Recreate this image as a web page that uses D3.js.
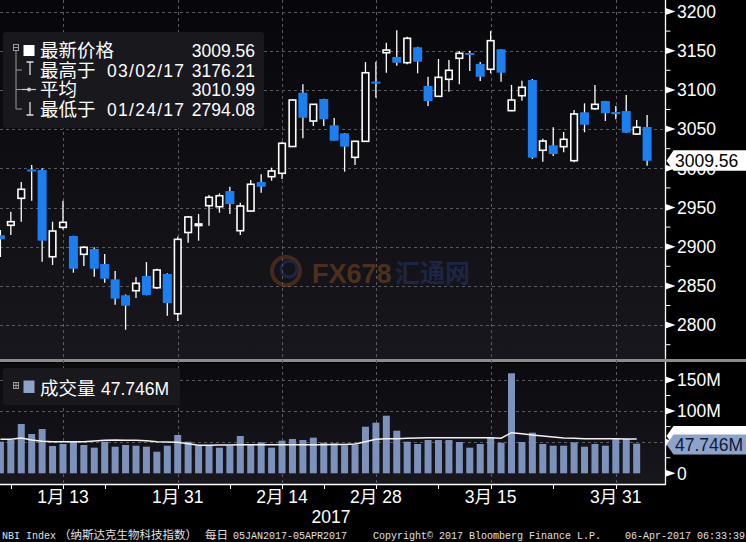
<!DOCTYPE html>
<html><head><meta charset="utf-8">
<script src="https://cdn.jsdelivr.net/npm/d3@7"></script>
<style>html,body{margin:0;padding:0;background:#000;} svg{display:block;}</style>
</head><body>
<svg id="c" width="746" height="542"></svg>
<script>
// ---------- DATA ----------
const dates = ["01/05","01/06","01/09","01/10","01/11","01/12","01/13","01/17","01/18","01/19","01/20","01/23","01/24","01/25","01/26","01/27","01/30","01/31",
"02/01","02/02","02/03","02/06","02/07","02/08","02/09","02/10","02/13","02/14","02/15","02/16","02/17","02/21","02/22","02/23","02/24","02/27","02/28",
"03/01","03/02","03/03","03/06","03/07","03/08","03/09","03/10","03/13","03/14","03/15","03/16","03/17","03/20","03/21","03/22","03/23","03/24","03/27","03/28","03/29","03/30","03/31",
"04/03","04/04","04/05"];
const openP  = [2914.6,2927.3,2961.7,2997.5,2997.8,2887.2,2924.7,2913.6,2890.3,2897.1,2877.9,2858.4,2838.0,2843.9,2862.6,2847.7,2865.2,2814.5,
2918.1,2927.0,2952.3,2951.0,2971.0,2920.4,2945.5,2982.5,2989.3,2993.6,3027.8,3096.4,3060.3,3088.4,3054.8,3044.6,3014.0,3034.4,3109.6,
3147.4,3142.0,3134.7,3154.3,3105.0,3091.8,3113.5,3140.3,3146.7,3133.0,3126.3,3151.8,3073.5,3092.6,3112.6,3023.0,3029.3,3027.6,3009.7,3071.4,3076.0,3085.8,3070.8,
3073.0,3043.7,3052.7];
const highP  = [2921.3,2944.6,2982.5,3004.2,3000.0,2931.9,2958.7,2914.0,2900.9,2899.2,2890.7,2869.0,2839.0,2861.4,2880.5,2871.9,2866.0,2912.8,
2939.0,2941.7,2966.0,2968.0,2976.5,2956.0,2985.0,2992.3,3000.8,3034.0,3088.0,3107.1,3082.0,3088.6,3064.2,3045.0,3035.0,3135.6,3136.0,
3160.2,3176.21,3167.9,3155.0,3116.8,3139.4,3138.1,3149.6,3150.0,3135.6,3175.0,3152.0,3106.3,3111.7,3113.9,3037.8,3052.3,3046.3,3074.4,3082.9,3106.3,3086.0,3079.5,
3093.5,3061.6,3068.0];
const lowP   = [2886.9,2914.9,2931.9,2958.7,2880.9,2876.7,2922.0,2866.8,2875.4,2861.7,2854.1,2826.0,2794.08,2834.6,2838.0,2846.0,2812.0,2805.2,
2905.0,2907.7,2926.8,2943.4,2941.7,2914.9,2945.0,2968.9,2984.2,2986.4,3027.0,3038.3,3053.8,3054.0,3035.0,2995.7,3004.2,3034.0,3090.0,
3121.9,3130.9,3132.7,3121.2,3079.5,3091.0,3097.7,3107.1,3124.0,3111.4,3121.2,3110.5,3073.0,3086.2,3011.9,3008.4,3015.7,3020.4,3007.7,3046.0,3074.4,3060.3,3062.5,
3045.0,3042.5,3003.3];
const closeP = [2909.5,2931.9,2973.2,2996.9,2907.7,2920.0,2931.1,2871.9,2899.2,2871.9,2859.2,2833.7,2824.7,2853.3,2838.4,2870.3,2828.2,2909.4,
2937.9,2929.0,2963.0,2965.0,2954.5,2951.9,2979.6,2976.5,2996.6,3031.9,3087.1,3064.5,3081.6,3062.5,3035.2,3027.6,3034.4,3121.9,3109.0,
3150.8,3134.7,3165.8,3136.0,3085.8,3116.0,3125.0,3146.7,3145.0,3116.8,3162.8,3121.9,3087.1,3103.3,3013.5,3034.8,3018.2,3037.0,3069.3,3055.6,3081.6,3070.2,3070.0,
3045.4,3052.3,3009.56];
// volume in millions (no bar drawn for the last session)
const volume = [50.8,53.5,79.3,63.2,71.2,43.9,47.1,50.8,45.5,41.2,50.8,42.8,45.5,44.4,42.8,34.7,44.4,61.6,
50.8,44.4,44.4,41.2,44.4,60.0,46.6,49.8,41.2,52.4,55.2,53.5,57.3,49.2,48.2,45.0,46.0,74.9,81.4,
92.6,68.5,50.8,47.1,53.5,53.5,53.5,50.3,41.2,47.1,57.3,49.2,160.8,50.3,65.3,47.1,44.4,44.4,49.8,42.8,47.1,44.4,55.2,
55.2,47.746,null];
const volumeMA = [54.7,54.7,56.8,53.5,51.5,50.8,50.8,50.8,50.8,51.9,53.0,53.5,53.0,53.0,52.4,50.8,50.3,49.8,
47.6,45.0,45.0,45.5,45.5,46.0,46.0,46.0,46.0,46.0,46.0,46.0,46.0,46.0,46.5,46.5,47.0,50.8,54.7,
55.7,55.7,56.3,56.8,57.3,57.3,57.3,57.3,57.3,57.3,57.3,56.3,65.3,63.7,61.6,60.0,58.4,56.8,56.3,55.7,55.7,55.7,55.5,
55.2,55.2,null];
const priceTicks = [2800,2850,2900,2950,3000,3050,3100,3150,3200];
const priceMinor = [2775,2825,2875,2925,2975,3025,3075,3125,3175];
const volTicks = [0,50,100,150];
const volTickLabels = ["0","","100M","150M"];   // 50M label is hidden behind the last-volume tag
const volMinor = [25,75,125];
const dateLabelIdx = [6,17,27,36,47,59];
const dateLabels = ["1月 13","1月 31","2月 14","2月 28","3月 15","3月 31"];
const dateMinorIdx = [1,10,22,31,42,53];
const lastPrice = 3009.56, avgPrice = 3010.99, maxPrice = 3176.21, minPrice = 2794.08;
const lastVolume = 47.746;

// ---------- SETUP ----------
const svg = d3.select("#c");
const W = 746, PR = 665.5;
const numFont = "'Liberation Sans', Arial, 'Noto Sans CJK SC', sans-serif";
const cjkFont = "'Noto Sans CJK SC', 'Liberation Sans', sans-serif";
const x = d3.scalePoint().domain(dates).range([0.4, 647.1]);
const y = d3.scaleLinear().domain([2800, 3200]).range([325.1, 11.5]);
const yv = d3.scaleLinear().domain([0, 150]).range([473.3, 380.0]);

const defs = svg.append("defs");
const g1 = defs.append("linearGradient").attr("id","pg").attr("x1",0).attr("y1",0).attr("x2",0).attr("y2",1);
g1.append("stop").attr("offset","0%").attr("stop-color","#07070b");
g1.append("stop").attr("offset","100%").attr("stop-color","#17171d");
const g2 = defs.append("linearGradient").attr("id","vg").attr("x1",0).attr("y1",0).attr("x2",0).attr("y2",1);
g2.append("stop").attr("offset","0%").attr("stop-color","#0a0a0f");
g2.append("stop").attr("offset","100%").attr("stop-color","#17171d");

svg.append("rect").attr("width",W).attr("height",542).attr("fill","#000");
svg.append("rect").attr("x",0).attr("y",0).attr("width",PR).attr("height",359).attr("fill","url(#pg)");
svg.append("rect").attr("x",0).attr("y",363).attr("width",PR).attr("height",121).attr("fill","url(#vg)");
svg.append("rect").attr("x",0).attr("y",359).attr("width",W).attr("height",3).attr("fill","#8c8c8c");

// gridlines
const grid = svg.append("g").attr("stroke","#5a5a5e").attr("stroke-width",1).attr("stroke-dasharray","3,3");
grid.selectAll("line.h").data(priceTicks).join("line")
  .attr("x1",0).attr("x2",PR).attr("y1",d=>Math.round(y(d))+0.5).attr("y2",d=>Math.round(y(d))+0.5);
grid.selectAll("line.hv").data(volTicks.filter(d=>d>0)).join("line")
  .attr("x1",0).attr("x2",PR).attr("y1",d=>Math.round(yv(d))+0.5).attr("y2",d=>Math.round(yv(d))+0.5);
grid.selectAll("line.v").data(dateLabelIdx).join("line")
  .attr("x1",i=>Math.round(x(dates[i]))+0.5).attr("x2",i=>Math.round(x(dates[i]))+0.5)
  .attr("y1",0).attr("y2",484);

// watermark
const wm = svg.append("g").attr("opacity",0.42);
wm.append("circle").attr("cx",286).attr("cy",271).attr("r",14).attr("fill","none").attr("stroke","#8a4a20").attr("stroke-width",4);
wm.append("circle").attr("cx",289).attr("cy",269).attr("r",8).attr("fill","none").attr("stroke","#2a3d7a").attr("stroke-width",3);
wm.append("text").attr("x",312).attr("y",283).attr("font-family",numFont).attr("font-weight","bold").attr("font-size",27)
  .attr("fill","#9a5a24").text("FX678");
wm.append("text").attr("x",395).attr("y",282).attr("font-family",cjkFont).attr("font-weight","bold").attr("font-size",25)
  .attr("fill","#2e3f80").text("汇通网");

// candles
const candles = d3.range(dates.length).map(i => ({d:dates[i], o:openP[i], h:highP[i], l:lowP[i], c:closeP[i]}));
const BLUE = "#1b7ff0";
const cg = svg.append("g");
const cs = cg.selectAll("g").data(candles).join("g");
cs.append("line").attr("x1",d=>x(d.d)).attr("x2",d=>x(d.d)).attr("y1",d=>y(d.h)).attr("y2",d=>y(d.l))
  .attr("stroke","#ffffff").attr("stroke-width",1.3);
cs.each(function(d){
  const s = d3.select(this), cx = x(d.d);
  const top = y(Math.max(d.o,d.c)), bot = y(Math.min(d.o,d.c));
  if (d.c >= d.o) {
    const h = Math.max(bot-top, 1.5);
    s.append("rect").attr("x",cx-3.3).attr("y",top).attr("width",6.6).attr("height",h)
      .attr("fill","#0c0c10").attr("stroke","#ffffff").attr("stroke-width",1.6);
  } else {
    const h = bot-top;
    if (h < 2.5) {
      s.append("rect").attr("x",cx-4.5).attr("y",(top+bot)/2-1).attr("width",9).attr("height",2).attr("fill",BLUE);
    } else {
      s.append("rect").attr("x",cx-4.5).attr("y",top).attr("width",9).attr("height",h).attr("fill",BLUE);
    }
  }
});

// volume bars
const vdata = d3.range(dates.length).map(i => ({d:dates[i], v:volume[i], m:volumeMA[i]}));
svg.append("g").selectAll("rect").data(vdata.filter(d=>d.v!=null)).join("rect")
  .attr("x",d=>x(d.d)-3.5).attr("width",7).attr("y",d=>yv(d.v)).attr("height",d=>yv(0)-yv(d.v))
  .attr("fill","#7d92ba");
svg.append("path").datum(vdata.filter(d=>d.m!=null))
  .attr("d", d3.line().x(d=>x(d.d)).y(d=>yv(d.m)))
  .attr("fill","none").attr("stroke","#f2f2f2").attr("stroke-width",1.5);

// right axis line & date axis line
svg.append("line").attr("x1",PR).attr("x2",PR).attr("y1",0).attr("y2",359).attr("stroke","#fff").attr("stroke-width",1.3);
svg.append("line").attr("x1",PR).attr("x2",PR).attr("y1",362).attr("y2",485).attr("stroke","#fff").attr("stroke-width",1.3);
svg.append("line").attr("x1",0).attr("x2",PR).attr("y1",484.5).attr("y2",484.5).attr("stroke","#fff").attr("stroke-width",1.3);

// price axis
const tri = (yy)=>`M${PR},${yy-3.5}L${PR+10},${yy}L${PR},${yy+3.5}Z`;
const pa = svg.append("g");
pa.selectAll("path").data(priceTicks).join("path").attr("d",d=>tri(y(d))).attr("fill","#fff");
pa.selectAll("line").data(priceMinor).join("line").attr("x1",PR).attr("x2",PR+5).attr("y1",d=>y(d)).attr("y2",d=>y(d))
  .attr("stroke","#fff").attr("stroke-width",1);
pa.selectAll("text").data(priceTicks).join("text").attr("x",677).attr("y",d=>y(d)).attr("dy","0.36em")
  .attr("font-family",numFont).attr("font-size",17.5).attr("fill","#fff").text(d=>d);
// last price tag
const ly = y(lastPrice);
svg.append("path").attr("d",`M${PR+1},${ly}L${PR+8},${ly-10.5}L${W},${ly-10.5}L${W},${ly+10}L${PR+8},${ly+10}Z`).attr("fill","#fff");
svg.append("text").attr("x",675).attr("y",ly).attr("dy","0.36em").attr("font-family",numFont).attr("font-size",17.5)
  .attr("fill","#000").text(lastPrice.toFixed(2));

// volume axis
const va = svg.append("g");
va.selectAll("path").data(volTicks).join("path").attr("d",d=>tri(yv(d))).attr("fill","#fff");
va.selectAll("line").data(volMinor).join("line").attr("x1",PR).attr("x2",PR+5).attr("y1",d=>yv(d)).attr("y2",d=>yv(d))
  .attr("stroke","#fff").attr("stroke-width",1);
va.selectAll("text").data(volTicks.filter((d,i)=>volTickLabels[i])).join("text").attr("x",677).attr("y",d=>yv(d)).attr("dy","0.36em")
  .attr("font-family",numFont).attr("font-size",17.5).attr("fill","#fff").text(d=>volTickLabels[volTicks.indexOf(d)]);
// MA tag (behind) and last volume tag
const lastMA = volumeMA.filter(v=>v!=null).slice(-1)[0];
const my = yv(lastMA) - 3;
svg.append("path").attr("d",`M${PR+1},${my}L${PR+8},${my-10}L${W},${my-10}L${W},${my+10}L${PR+8},${my+10}Z`).attr("fill","#fff");
const vy = yv(lastVolume) + 1;
svg.append("path").attr("d",`M${PR+1},${vy}L${PR+8},${vy-10}L${W},${vy-10}L${W},${vy+10}L${PR+8},${vy+10}Z`).attr("fill","#8ea3c9");
svg.append("text").attr("x",675).attr("y",vy).attr("dy","0.36em").attr("font-family",numFont).attr("font-size",17.5)
  .attr("fill","#0d1b38").text(lastVolume.toFixed(3)+"M");

// date axis
const da = svg.append("g");
da.selectAll("line").data(dateLabelIdx.concat(dateMinorIdx)).join("line")
  .attr("x1",i=>Math.round(x(dates[i]))+0.5).attr("x2",i=>Math.round(x(dates[i]))+0.5).attr("y1",484).attr("y2",489)
  .attr("stroke","#fff").attr("stroke-width",1);
da.selectAll("text").data(dateLabelIdx).join("text").attr("x",i=>x(dates[i])).attr("y",503)
  .attr("text-anchor","middle").attr("font-family",numFont).attr("font-size",17.5).attr("fill","#fff")
  .text((i,k)=>dateLabels[k]);
svg.append("text").attr("x",331).attr("y",523).attr("text-anchor","middle").attr("font-family",numFont)
  .attr("font-size",17.5).attr("fill","#fff").text("2017");

// price legend
const lg = svg.append("g");
lg.append("rect").attr("x",3).attr("y",32).attr("width",261).attr("height",96).attr("rx",3).attr("fill","#18181d");
const tc = "#9a9a9a";
lg.append("rect").attr("x",13.5).attr("y",44.5).attr("width",5).attr("height",6).attr("fill","none").attr("stroke",tc).attr("stroke-width",1);
lg.append("line").attr("x1",14).attr("x2",18).attr("y1",47.5).attr("y2",47.5).attr("stroke",tc);
lg.append("rect").attr("x",23.5).attr("y",45).attr("width",11).attr("height",11).attr("fill","#fff");
lg.append("path").attr("d","M16,51V109H22M16,70H22M16,89.5H22").attr("fill","none").attr("stroke",tc).attr("stroke-width",1);
lg.append("path").attr("d","M26.5,62H33.5M30,62V75").attr("stroke","#ddd").attr("stroke-width",1.3);
lg.append("path").attr("d","M22,89.5H36").attr("stroke","#ccc").attr("stroke-width",1.2);
lg.append("circle").attr("cx",29).attr("cy",89.5).attr("r",2).attr("fill","#ccc");
lg.append("path").attr("d","M30,102V115M26.5,115H33.5").attr("stroke","#ddd").attr("stroke-width",1.3);
const rows = [
  {y:57, label:"最新价格", date:"", val:lastPrice},
  {y:77, label:"最高于", date:"03/02/17", val:maxPrice},
  {y:96, label:"平均", date:"", val:avgPrice},
  {y:116, label:"最低于", date:"01/24/17", val:minPrice}
];
lg.selectAll("text.l").data(rows).join("text").attr("x",40).attr("y",d=>d.y).attr("font-family",cjkFont)
  .attr("font-size",18.5).attr("fill","#fff").text(d=>d.label);
lg.selectAll("text.d").data(rows.filter(r=>r.date)).join("text").attr("x",107).attr("y",d=>d.y)
  .attr("font-family",numFont).attr("font-size",17.5).attr("fill","#fff").attr("textLength",77).text(d=>d.date);
lg.selectAll("text.v").data(rows).join("text").attr("x",255).attr("y",d=>d.y).attr("text-anchor","end")
  .attr("font-family",numFont).attr("font-size",17.5).attr("fill","#fff").text(d=>d.val.toFixed(2));

// volume legend
const vl = svg.append("g");
vl.append("rect").attr("x",3).attr("y",368).attr("width",177).attr("height",37).attr("rx",3).attr("fill","#18181d");
vl.append("rect").attr("x",13.5).attr("y",382.5).attr("width",5).attr("height",6).attr("fill","none").attr("stroke",tc);
vl.append("path").attr("d","M14,385.5H18M16,383V388").attr("stroke",tc).attr("stroke-width",1);
vl.append("rect").attr("x",23.5).attr("y",380.5).attr("width",11).attr("height",12.5).attr("fill","#8ea3c9");
vl.append("text").attr("x",40).attr("y",395).attr("font-family",cjkFont).attr("font-size",18.5).attr("fill","#fff").text("成交量");
vl.append("text").attr("x",101).attr("y",395).attr("font-family",numFont).attr("font-size",17.5).attr("fill","#fff")
  .text(lastVolume.toFixed(3)+"M");

// footer
const ft = svg.append("g").attr("fill","#e0e0e0");
const mono = "'Liberation Mono', 'DejaVu Sans Mono', monospace";
ft.append("text").attr("x",2).attr("y",539).attr("font-family",mono).attr("font-size",10).text("NBI Index");
ft.append("text").attr("x",59).attr("y",539).attr("font-family",cjkFont).attr("font-size",11.5).text("（纳斯达克生物科技指数）");
ft.append("text").attr("x",205).attr("y",539).attr("font-family",cjkFont).attr("font-size",11.5).text("每日");
ft.append("text").attr("x",233).attr("y",539).attr("font-family",mono).attr("font-size",10).text("05JAN2017-05APR2017");
ft.append("text").attr("x",373).attr("y",539).attr("font-family",mono).attr("font-size",10).text("Copyright© 2017 Bloomberg Finance L.P.");
ft.append("text").attr("x",625).attr("y",539).attr("font-family",mono).attr("font-size",10).text("06-Apr-2017 06:33:39");
</script>
</body></html>
